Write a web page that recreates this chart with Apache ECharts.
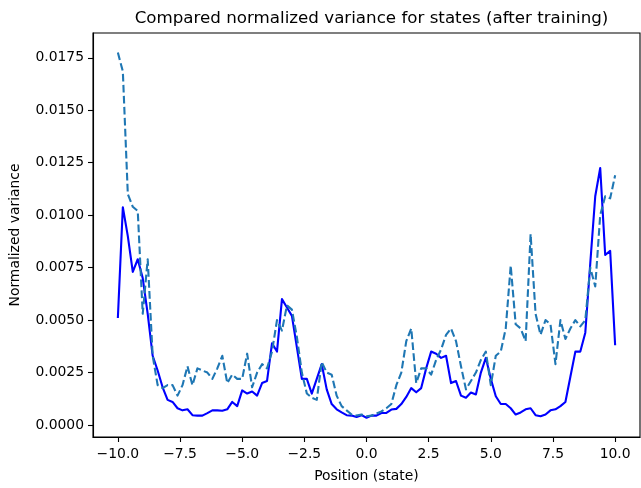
<!DOCTYPE html>
<html>
<head>
<meta charset="utf-8">
<script src="https://cdn.jsdelivr.net/npm/echarts@6/dist/echarts.min.js"></script>
<style>html,body{margin:0;padding:0;background:#fff}#c{width:641px;height:488px}</style>
</head>
<body>
<div id="c"></div>
<script>
const positions = [-10.0,-9.8,-9.6,-9.4,-9.2,-9.0,-8.8,-8.6,-8.4,-8.2,-8.0,-7.8,-7.6,-7.4,-7.2,-7.0,-6.8,-6.6,-6.4,-6.2,-6.0,-5.8,-5.6,-5.4,-5.2,-5.0,-4.8,-4.6,-4.4,-4.2,-4.0,-3.8,-3.6,-3.4,-3.2,-3.0,-2.8,-2.6,-2.4,-2.2,-2.0,-1.8,-1.6,-1.4,-1.2,-1.0,-0.8,-0.6,-0.4,-0.2,0.0,0.2,0.4,0.6,0.8,1.0,1.2,1.4,1.6,1.8,2.0,2.2,2.4,2.6,2.8,3.0,3.2,3.4,3.6,3.8,4.0,4.2,4.4,4.6,4.8,5.0,5.2,5.4,5.6,5.8,6.0,6.2,6.4,6.6,6.8,7.0,7.2,7.4,7.6,7.8,8.0,8.2,8.4,8.6,8.8,9.0,9.2,9.4,9.6,9.8,10.0];

const varianceSolid = [0.0051,0.01038,0.0090,0.0073,0.0079,0.0070,0.0053,0.0033,0.0026,0.0018,
0.0012,0.0011,0.0008,0.0007,0.00075,0.00047,0.00045,0.00045,0.00057,0.0007,
0.0007,0.00068,0.00075,0.0011,0.0009,0.00165,0.0015,0.0016,0.0014,0.0020,
0.0021,0.0039,0.0035,0.0060,0.0056,0.0052,0.0037,0.0022,0.0022,0.0015,
0.0022,0.0029,0.0017,0.0010,0.00075,0.0006,0.00047,0.00045,0.00038,0.00047,
0.00035,0.00045,0.00045,0.00057,0.00058,0.00074,0.00077,0.0010,0.00134,0.00176,
0.00156,0.00176,0.0027,0.0035,0.0034,0.0032,0.0033,0.0020,0.0021,0.0014,
0.0013,0.00155,0.00146,0.0025,0.0032,0.0022,0.00137,0.0010,0.0010,0.0008,
0.0005,0.0006,0.00075,0.0008,0.00047,0.00042,0.0005,0.0007,0.00075,0.0009,
0.0011,0.0023,0.0035,0.0035,0.0044,0.0077,0.0109,0.01225,0.0081,0.0083,
0.0038];

const varianceDashed = [0.01775,0.01685,0.0110,0.0104,0.0102,0.0053,0.0079,0.0033,0.0019,0.00176,
0.0019,0.0019,0.0014,0.0019,0.0028,0.0019,0.0027,0.0026,0.0025,0.0022,
0.0027,0.0033,0.0020,0.0024,0.0022,0.0022,0.0034,0.0018,0.0025,0.0029,
0.0027,0.0035,0.0050,0.0045,0.0057,0.0055,0.0042,0.0025,0.0015,0.0013,
0.0012,0.0030,0.0025,0.0024,0.0014,0.0009,0.0007,0.0005,0.00045,0.0005,
0.00042,0.00045,0.00055,0.00065,0.0008,0.0010,0.0019,0.0025,0.0040,0.0046,
0.0020,0.0027,0.0027,0.0024,0.0031,0.0036,0.0043,0.0046,0.0040,0.0028,
0.0017,0.0021,0.0025,0.0031,0.0035,0.0019,0.0033,0.0035,0.0046,0.0076,
0.0048,0.0046,0.0040,0.0091,0.0053,0.0043,0.0050,0.0048,0.0029,0.0050,
0.0041,0.0046,0.0050,0.0047,0.0050,0.0075,0.0066,0.0100,0.0109,0.0108,
0.0119];

const xTicks = [-10, -7.5, -5, -2.5, 0, 2.5, 5, 7.5, 10];
const yTicks = [0, 0.0025, 0.005, 0.0075, 0.01, 0.0125, 0.015, 0.0175];

const FONT = 'DejaVu Sans';
const minus = s => s.replace('-', '\u2212');

const chart = echarts.init(document.getElementById('c'), null, {renderer: 'canvas'});
chart.setOption({
  animation: false,
  backgroundColor: '#fff',
  title: {
    text: 'Compared normalized variance for states (after training)',
    left: 366.5, top: 5, textAlign: 'center',
    textStyle: {fontFamily: FONT, fontSize: 16.7, fontWeight: 'normal', color: '#000'}
  },
  grid: {left: 93, right: 1, top: 33, bottom: 47, show: true, borderColor: '#000', borderWidth: 1.1, backgroundColor: 'transparent'},
  xAxis: {
    type: 'value', min: -11, max: 11,
    name: 'Position (state)', nameLocation: 'middle', nameGap: 32,
    nameTextStyle: {fontFamily: FONT, fontSize: 13.9, color: '#000'},
    axisLine: {show: true, onZero: false, lineStyle: {color: '#000', width: 1.1}},
    axisTick: {show: true, length: 5, lineStyle: {color: '#000', width: 1.1}, customValues: xTicks},
    axisLabel: {fontFamily: FONT, fontSize: 13.9, color: '#000', margin: 10, customValues: xTicks,
      formatter: v => minus(v.toFixed(1))},
    splitLine: {show: false}
  },
  yAxis: {
    type: 'value', min: -0.00057, max: 0.01868,
    name: 'Normalized variance', nameLocation: 'middle', nameGap: 71, nameRotate: 90,
    nameTextStyle: {fontFamily: FONT, fontSize: 13.9, color: '#000'},
    axisLine: {show: true, onZero: false, lineStyle: {color: '#000', width: 1.1}},
    axisTick: {show: true, length: 5, lineStyle: {color: '#000', width: 1.1}, customValues: yTicks},
    axisLabel: {fontFamily: FONT, fontSize: 13.9, color: '#000', margin: 9, customValues: yTicks,
      formatter: v => v.toFixed(4)},
    splitLine: {show: false}
  },
  series: [
    {
      type: 'line', name: 'solid', showSymbol: false, symbol: 'none',
      data: positions.map((x, i) => [x, varianceSolid[i]]),
      lineStyle: {color: '#0000ff', width: 2.1, type: 'solid', join: 'round', cap: 'butt'},
      z: 2
    },
    {
      type: 'line', name: 'dashed', showSymbol: false, symbol: 'none',
      data: positions.map((x, i) => [x, varianceDashed[i]]),
      lineStyle: {color: '#1f77b4', width: 2.1, type: [7.7, 3.3], join: 'round', cap: 'butt'},
      z: 3
    }
  ]
});
</script>
</body>
</html>
